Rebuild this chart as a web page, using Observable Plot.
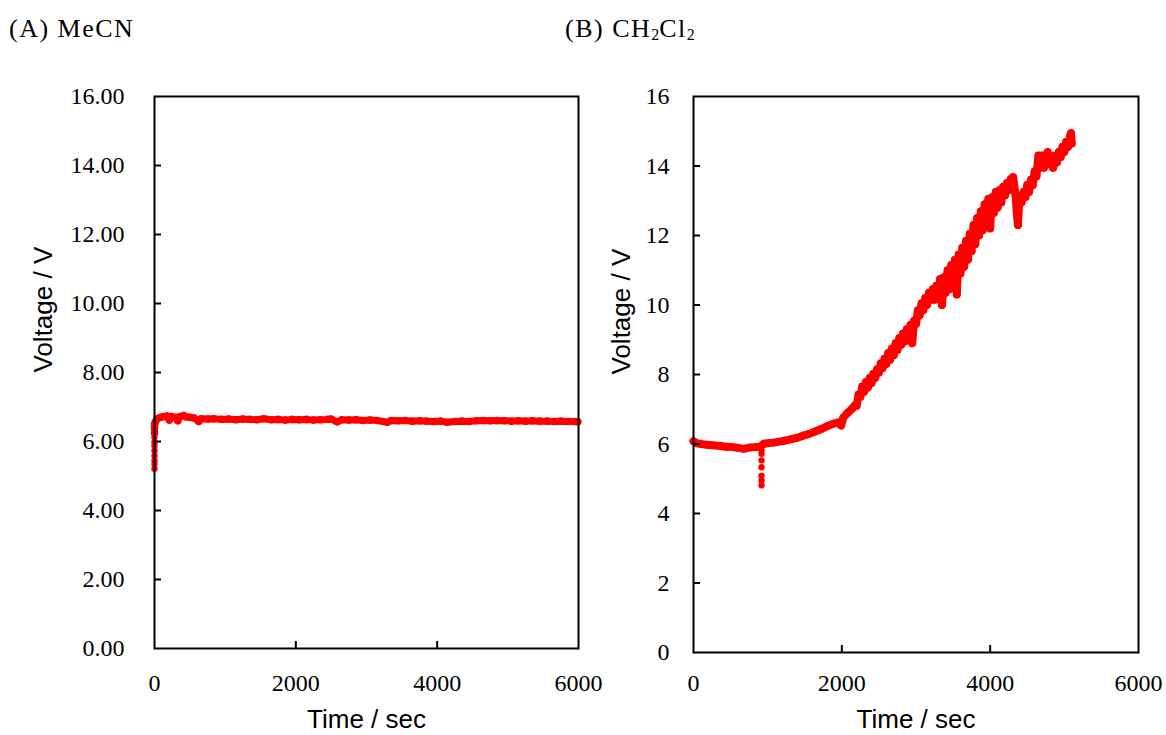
<!DOCTYPE html>
<html>
<head>
<meta charset="utf-8">
<script src="https://cdn.jsdelivr.net/npm/d3@7"></script>
<script src="https://cdn.jsdelivr.net/npm/@observablehq/plot@0.6"></script>
<style>
  html, body { margin: 0; padding: 0; background: #fff; }
  #root { position: relative; width: 1166px; height: 735px; overflow: hidden; background: #fff; }
  .title { position: absolute; font-family: "Liberation Serif", serif; font-size: 26px; line-height: 1; letter-spacing: 1.5px; color: #000; white-space: nowrap; }
  .title sub { font-size: 16px; vertical-align: -3px; letter-spacing: 0; }
  .panel { position: absolute; top: 50px; }
  .panel svg { overflow: visible; }
</style>
</head>
<body>
<div id="root">
  <div class="title" style="left:9px;top:16px">(A) MeCN</div>
  <div class="title" style="left:565px;top:16px">(B) CH<sub>2</sub>Cl<sub>2</sub></div>
  <div id="panelA" class="panel" style="left:0px"></div>
  <div id="panelB" class="panel" style="left:583px"></div>
</div>
<script>
// ---------- Data ----------
const xTicks = [0, 2000, 4000, 6000];
const yTicksA = [0, 2, 4, 6, 8, 10, 12, 14, 16];
const yTicksB = [0, 2, 4, 6, 8, 10, 12, 14, 16];
const xLabel = "Time / sec";
const yLabel = "Voltage / V";

// (A) MeCN — main trace
const timeA = [0, 0, 5, 14, 40, 85, 130, 180, 210, 240, 297, 330, 360, 415, 450, 500, 560, 627, 660, 760, 840, 950,
  1050, 1150, 1250, 1350, 1450, 1547, 1650, 1750, 1850, 1950, 2050, 2150, 2250, 2350, 2450, 2500, 2585, 2650,
  2750, 2850, 2950, 3050, 3150, 3293, 3350, 3450, 3550, 3650, 3750, 3850, 3950, 4050, 4142, 4250, 4350, 4450,
  4550, 4650, 4750, 4850, 4950, 5050, 5150, 5250, 5350, 5450, 5558, 5650, 5750, 5850, 5950, 5990];
const voltA = [6.25, 6.4, 6.52, 6.58, 6.66, 6.70, 6.72, 6.74, 6.62, 6.72, 6.70, 6.60, 6.72, 6.75, 6.71, 6.70, 6.68, 6.58, 6.66, 6.65, 6.66, 6.64,
  6.65, 6.63, 6.65, 6.64, 6.63, 6.66, 6.63, 6.64, 6.62, 6.64, 6.63, 6.64, 6.62, 6.63, 6.64, 6.65, 6.57, 6.63,
  6.62, 6.63, 6.61, 6.62, 6.61, 6.56, 6.61, 6.60, 6.61, 6.59, 6.60, 6.59, 6.58, 6.59, 6.56, 6.58, 6.59, 6.58,
  6.60, 6.61, 6.60, 6.61, 6.60, 6.59, 6.60, 6.59, 6.60, 6.59, 6.59, 6.58, 6.59, 6.58, 6.58, 6.57];
// (A) start-up transient (isolated points)
const spikeTimeA = [0, 0, 0, 0, 0, 0, 0, 0];
const spikeVoltA = [5.21, 5.35, 5.45, 5.59, 5.74, 5.88, 5.98, 6.12];

// (B) CH2Cl2 — main trace (noisy readings)
const timeB = [0, 40, 100, 180, 270, 360, 440, 520, 600, 680, 760, 840, 900, 950, 1000, 1080, 1160, 1240, 1320,
  1400, 1480, 1560, 1640, 1720, 1800, 1880, 1950, 1990, 2020, 2080, 2140, 2180,
  2200, 2225, 2250, 2275, 2300, 2325, 2350, 2375, 2400, 2425, 2450, 2475, 2500, 2525, 2550, 2575, 2600, 2625,
  2650, 2675, 2700, 2725, 2750, 2775, 2800, 2825, 2850, 2875, 2900, 2925, 2950, 2975, 3000, 3025, 3050, 3075,
  3100, 3125, 3150, 3175, 3200, 3225, 3250, 3275, 3300, 3325, 3350, 3375, 3400, 3425, 3450, 3475, 3500, 3525,
  3550, 3575, 3600, 3625, 3650, 3675, 3700, 3725, 3750, 3775, 3800, 3825, 3850, 3875, 3900, 3925, 3950, 3975,
  4000, 4025, 4050, 4075, 4100, 4125, 4150, 4175, 4200, 4225, 4250, 4275, 4300, 4310, 4340, 4360, 4375, 4390,
  4410, 4425, 4450, 4475, 4500, 4525, 4550, 4575, 4600, 4625, 4650, 4675, 4700, 4725, 4750, 4775, 4800, 4825,
  4850, 4875, 4900, 4925, 4950, 4975, 5000, 5025, 5050, 5075, 5090, 5100];
const voltB = [6.08, 6.02, 6.00, 5.98, 5.96, 5.94, 5.92, 5.91, 5.89, 5.86, 5.90, 5.91, 5.92, 6.01, 6.02, 6.04, 6.07, 6.10, 6.14,
  6.18, 6.24, 6.29, 6.36, 6.43, 6.51, 6.58, 6.62, 6.53, 6.76, 6.90, 7.02, 7.12,
  7.10, 7.42, 7.35, 7.65, 7.50, 7.78, 7.62, 7.90, 7.75, 8.02, 7.90, 8.15, 8.05, 8.32, 8.18, 8.45, 8.30, 8.62,
  8.42, 8.75, 8.55, 8.90, 8.70, 9.05, 8.85, 9.18, 8.95, 9.30, 9.10, 9.42, 8.90, 9.55, 9.45, 9.85, 9.70, 10.05,
  9.85, 10.20, 10.00, 10.35, 10.15, 10.45, 10.15, 10.55, 10.20, 10.75, 10.00, 10.80, 10.35, 11.00, 10.45, 11.15, 10.60, 11.30,
  10.30, 11.45, 10.90, 11.65, 11.10, 11.85, 11.30, 12.05, 11.55, 12.30, 11.75, 12.50, 12.00, 12.70, 12.15, 12.90, 12.40, 13.05,
  12.20, 13.10, 12.65, 13.25, 12.80, 13.30, 12.95, 13.40, 13.15, 13.50, 13.30, 13.62, 13.45, 13.68, 13.20, 12.60, 12.30, 12.90,
  13.15, 12.95, 13.25, 13.10, 13.45, 13.25, 13.60, 13.45, 13.85, 13.70, 14.30, 13.95, 14.30, 13.95, 14.25, 14.40, 14.05, 14.25,
  13.95, 14.30, 14.10, 14.40, 14.25, 14.55, 14.40, 14.70, 14.55, 14.85, 14.95, 14.65];
// (B) transient dip (isolated points)
const spikeTimeB = [917, 917, 917, 917, 917, 917, 917];
const spikeVoltB = [5.82, 5.72, 5.53, 5.33, 5.09, 4.95, 4.81];

// ---------- Drawing ----------
const RED = "#ff0000";
const H = 685;

function toRows(ts, vs) { return ts.map((t, i) => ({t, v: vs[i]})); }

function panel({width, marginLeft, marginRight, marginBottom, yTicks, yFormat, yPad, xPad, yLabelDx, xLabelDy, lineW, main, spike}) {
  const marginTop = 46;
  const innerW = width - marginLeft - marginRight;
  const innerH = H - marginTop - marginBottom;
  return Plot.plot({
    width, height: H, marginLeft, marginRight, marginTop, marginBottom,
    x: {domain: [0, 6000]},
    y: {domain: [0, 16]},
    style: {fontFamily: "'Liberation Serif', serif", fontSize: "24px", color: "#000", background: "transparent", overflow: "visible"},
    marks: [
      Plot.line(main, {x: "t", y: "v", stroke: RED, strokeWidth: lineW, strokeLinejoin: "round", strokeLinecap: "round"}),
      Plot.dot(main, {x: "t", y: "v", r: 3.8, fill: RED, stroke: "none"}),
      Plot.dot(spike, {x: "t", y: "v", r: 3.2, fill: RED, stroke: "none"}),
      Plot.frame({stroke: "#000", strokeWidth: 2}),
      Plot.tickY(yTicks.filter(d => d > 0 && d < 16), {y: d => d, stroke: "#000", strokeWidth: 2, insetRight: innerW - 7}),
      Plot.tickX(xTicks.filter(d => d > 0 && d < 6000), {x: d => d, stroke: "#000", strokeWidth: 2, insetTop: innerH - 7}),
      Plot.axisX({ticks: xTicks, tickSize: 0, tickPadding: xPad, label: null, tickFormat: d => String(d)}),
      Plot.axisY({ticks: yTicks, tickSize: 0, tickPadding: yPad, label: null, tickFormat: yFormat}),
      Plot.text([xLabel], {text: d => d, frameAnchor: "bottom", dy: xLabelDy, lineAnchor: "middle",
        fontFamily: "'Liberation Sans', Arial, sans-serif", fontSize: 26, fill: "#000"}),
      Plot.text([yLabel], {text: d => d, frameAnchor: "left", dx: yLabelDx, rotate: -90, lineAnchor: "middle",
        fontFamily: "'Liberation Sans', Arial, sans-serif", fontSize: 26, fill: "#000"})
    ]
  });
}

document.getElementById("panelA").append(panel({
  width: 600, marginLeft: 154, marginRight: 22, marginBottom: 87,
  yTicks: yTicksA, yFormat: d => d.toFixed(2), yPad: 30, xPad: 25, yLabelDx: -111, xLabelDy: 71, lineW: 7,
  main: toRows(timeA, voltA), spike: toRows(spikeTimeA, spikeVoltA)
}));

document.getElementById("panelB").append(panel({
  width: 583, marginLeft: 110, marginRight: 28, marginBottom: 83,
  yTicks: yTicksB, yFormat: d => String(d), yPad: 24, xPad: 21, yLabelDx: -72, xLabelDy: 67, lineW: 8,
  main: toRows(timeB, voltB), spike: toRows(spikeTimeB, spikeVoltB)
}));
</script>
</body>
</html>
